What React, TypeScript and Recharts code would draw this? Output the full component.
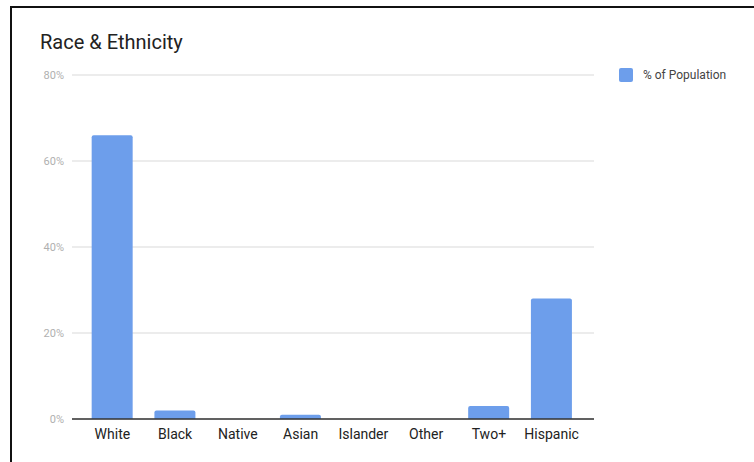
import { Bar, BarChart, CartesianGrid, XAxis, YAxis } from 'recharts'

const categories = ['White', 'Black', 'Native', 'Asian', 'Islander', 'Other', 'Two+', 'Hispanic']
const populationPct = [66, 2, 0, 1, 0, 0, 3, 28]
const yTicks = [0, 20, 40, 60, 80]

const data = categories.map((name, i) => ({ name, value: populationPct[i] }))

const BAR_COLOR = '#6d9eeb'
const FONT = 'Roboto, "Noto Sans", sans-serif'

export default function App() {
  return (
    <div style={{ position: 'fixed', left: 0, top: 0, width: 754, height: 462, background: '#fff' }}>
      <div
        style={{
          position: 'absolute',
          left: 10,
          top: 6,
          width: 760,
          height: 470,
          borderTop: '2px solid #111',
          borderLeft: '2px solid #111',
        }}
      />
      <div
        style={{
          position: 'absolute',
          left: 40,
          top: 30,
          fontFamily: FONT,
          fontSize: 20,
          color: '#222',
        }}
      >
        Race &amp; Ethnicity
      </div>
      {/* legend */}
      <div
        style={{
          position: 'absolute',
          left: 619,
          top: 68,
          display: 'flex',
          alignItems: 'center',
          fontFamily: FONT,
          fontSize: 12,
          color: '#444',
        }}
      >
        <span style={{ width: 14, height: 14, background: BAR_COLOR, borderRadius: 2, marginRight: 10 }} />
        % of Population
      </div>
      <div style={{ position: 'absolute', left: 0, top: 0 }}>
        <BarChart
          width={754}
          height={462}
          data={data}
          margin={{ top: 75, right: 160, bottom: 13, left: 0 }}
          barCategoryGap="17%"
        >
          <CartesianGrid vertical={false} stroke="#d9d9d9" />
          <XAxis
            dataKey="name"
            height={30}
            padding={{ left: 9, right: 11 }}
            tickLine={false}
            axisLine={{ stroke: '#333', strokeWidth: 1.5 }}
            tick={{ fill: '#222', fontSize: 14, fontFamily: FONT }}
            tickMargin={4}
            interval={0}
          />
          <YAxis
            width={72}
            domain={[0, 80]}
            ticks={yTicks}
            tickFormatter={(v) => `${v}%`}
            axisLine={false}
            tickLine={false}
            tick={{ fill: '#b0b0b0', fontSize: 11, fontFamily: FONT }}
          />
          <Bar dataKey="value" name="% of Population" fill={BAR_COLOR} radius={[2, 2, 0, 0]} isAnimationActive={false} />
        </BarChart>
      </div>
    </div>
  )
}
